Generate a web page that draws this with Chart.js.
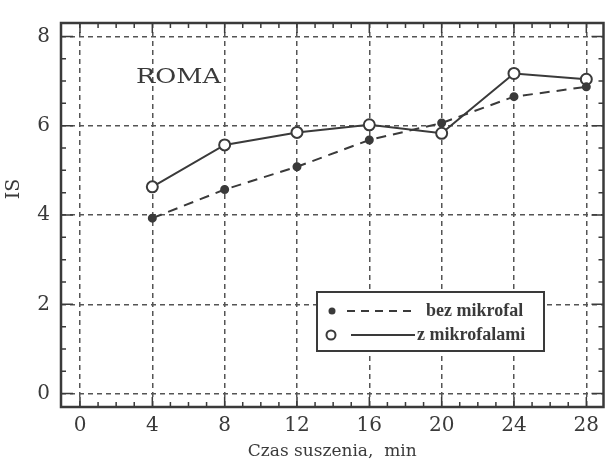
<!DOCTYPE html>
<html>
<head>
<meta charset="utf-8">
<script src="https://cdn.jsdelivr.net/npm/chart.js@4/dist/chart.umd.min.js"></script>
<style>
  html, body { margin: 0; padding: 0; background: #fff; }
  #wrap { width: 611px; height: 466px; }
</style>
</head>
<body>
<div id="wrap"><canvas id="chart"></canvas></div>
<script>
// drying time, min
const czas = [4, 8, 12, 16, 20, 24, 28];
// IS values
const bezMikrofal = [3.93, 4.57, 5.08, 5.68, 6.06, 6.65, 6.87];
const zMikrofalami = [4.63, 5.57, 5.85, 6.02, 5.83, 7.17, 7.04];
const xTicks = [0, 4, 8, 12, 16, 20, 24, 28];
const yTicks = [0, 2, 4, 6, 8];
const seriesNames = ['bez mikrofal', 'z mikrofalami'];

const ink = '#3a3a3a';
const serif = '"DejaVu Serif", serif';

// frame, minor ticks, ROMA label, IS title, boxed legend
const decor = {
  id: 'decor',
  afterDraw(chart) {
    const { ctx, chartArea: a, scales: { x, y } } = chart;
    ctx.save();
    ctx.strokeStyle = ink;
    ctx.lineWidth = 1.5;
    ctx.setLineDash([]);
    ctx.beginPath();
    for (let v = -1; v <= 29; v++) {
      const px = x.getPixelForValue(v);
      if (px < a.left + 2 || px > a.right - 2) continue;
      const len = v % 4 === 0 ? 10 : 5;
      ctx.moveTo(px, a.bottom); ctx.lineTo(px, a.bottom - len);
      ctx.moveTo(px, a.top); ctx.lineTo(px, a.top + len);
    }
    for (let v = 0; v <= 8; v += 0.5) {
      const py = y.getPixelForValue(v);
      const len = v % 2 === 0 ? 12 : 5;
      ctx.moveTo(a.left, py); ctx.lineTo(a.left + len, py);
      ctx.moveTo(a.right, py); ctx.lineTo(a.right - len, py);
    }
    ctx.stroke();

    ctx.lineWidth = 2.5;
    ctx.strokeRect(a.left, a.top, a.right - a.left, a.bottom - a.top);

    ctx.fillStyle = ink;
    ctx.textBaseline = 'middle';
    ctx.textAlign = 'left';
    // wide caps like the scanned label
    ctx.save();
    ctx.translate(x.getPixelForValue(3.1), y.getPixelForValue(7.08));
    ctx.scale(1.28, 1);
    ctx.font = '20px ' + serif;
    ctx.fillText('ROMA', 0, 0);
    ctx.restore();

    ctx.save();
    ctx.translate(14, 189);
    ctx.rotate(-Math.PI / 2);
    ctx.textAlign = 'center';
    ctx.font = '19px ' + serif;
    ctx.fillText('IS', 0, 0);
    ctx.restore();

    // legend box
    const bx = a.left + 256, by = a.top + 269, bw = 227, bh = 59;
    ctx.fillStyle = '#fff';
    ctx.fillRect(bx, by, bw, bh);
    ctx.lineWidth = 2;
    ctx.strokeRect(bx, by, bw, bh);
    const r1 = by + 19, r2 = by + 43;
    ctx.fillStyle = ink;
    ctx.beginPath(); ctx.arc(bx + 15, r1, 3.5, 0, Math.PI * 2); ctx.fill();
    ctx.setLineDash([8, 6]);
    ctx.beginPath(); ctx.moveTo(bx + 30, r1); ctx.lineTo(bx + 94, r1); ctx.stroke();
    ctx.setLineDash([]);
    ctx.beginPath(); ctx.arc(bx + 14, r2, 4.5, 0, Math.PI * 2);
    ctx.fillStyle = '#fff'; ctx.fill(); ctx.stroke();
    ctx.beginPath(); ctx.moveTo(bx + 34, r2); ctx.lineTo(bx + 98, r2); ctx.stroke();
    ctx.fillStyle = ink;
    ctx.font = 'bold 18px "Liberation Serif", serif';
    ctx.textAlign = 'left';
    ctx.fillText(seriesNames[0], bx + 109, r1);
    ctx.fillText(seriesNames[1], bx + 100, r2);
    ctx.restore();
  }
};

new Chart(document.getElementById('chart'), {
  type: 'line',
  data: {
    datasets: [
      {
        label: seriesNames[0],
        data: czas.map((c, i) => ({ x: c, y: bezMikrofal[i] })),
        borderColor: ink,
        borderWidth: 2,
        borderDash: [10, 7],
        pointRadius: 3.5,
        pointBackgroundColor: ink,
        pointBorderColor: ink,
        tension: 0
      },
      {
        label: seriesNames[1],
        data: czas.map((c, i) => ({ x: c, y: zMikrofalami[i] })),
        borderColor: ink,
        borderWidth: 2,
        pointRadius: 5.5,
        pointBorderWidth: 2,
        pointBackgroundColor: '#fff',
        pointBorderColor: ink,
        tension: 0
      }
    ]
  },
  options: {
    responsive: true,
    maintainAspectRatio: false,
    animation: false,
    layout: { padding: { top: 13, right: 2, left: 0, bottom: 0 } },
    plugins: { legend: { display: false }, tooltip: { enabled: false } },
    scales: {
      x: {
        type: 'linear',
        min: -1.05,
        max: 28.95,
        afterBuildTicks: s => { s.ticks = xTicks.map(v => ({ value: v })); },
        afterFit: s => { s.height = 59; },
        grid: { color: '#555', lineWidth: 1.5, drawTicks: false },
        border: { display: false, dash: [5, 4] },
        ticks: { color: ink, font: { family: serif, size: 20 }, padding: 7, maxRotation: 0 },
        title: {
          display: true,
          text: 'Czas suszenia,  min',
          color: ink,
          font: { family: serif, size: 17 },
          padding: { top: 4, bottom: 4 }
        }
      },
      y: {
        min: -0.3,
        max: 8.3,
        afterBuildTicks: s => { s.ticks = yTicks.map(v => ({ value: v })); },
        afterFit: s => { s.width = 61; },
        grid: { color: '#555', lineWidth: 1.5, drawTicks: false },
        border: { display: false, dash: [5, 4] },
        ticks: { color: ink, font: { family: serif, size: 20 }, padding: 11 }
      }
    }
  },
  plugins: [decor]
});
</script>
</body>
</html>
